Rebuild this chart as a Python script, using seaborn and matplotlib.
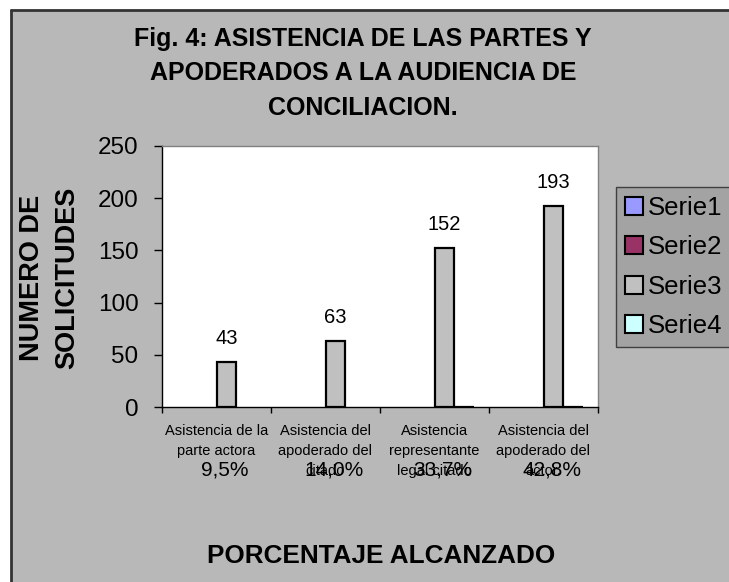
import numpy as np
import pandas as pd
import matplotlib
matplotlib.use("Agg")
import matplotlib.pyplot as plt
from matplotlib.patches import Rectangle, Patch
from matplotlib.lines import Line2D
import matplotlib.transforms as mtransforms
import seaborn as sns

# ---- data ----
categories = [
    "Asistencia de la\nparte actora",
    "Asistencia del\napoderado del\ncitado",
    "Asistencia\nrepresentante\nlegal citado",
    "Asistencia del\napoderado del\nactor.",
]
series_names = ["Serie1", "Serie2", "Serie3", "Serie4"]
serie1 = [np.nan, np.nan, np.nan, np.nan]
serie2 = [np.nan, np.nan, np.nan, np.nan]
serie3 = [43, 63, 152, 193]
serie4 = [np.nan, np.nan, 0.337, 0.428]
percent_labels = ["9,5%", "14,0%", "33,7%", "42,8%"]
y_ticks = [0, 50, 100, 150, 200, 250]
series_colors = ["#9999FF", "#993366", "#C0C0C0", "#CCFFFF"]

title = "Fig. 4: ASISTENCIA DE LAS PARTES Y\nAPODERADOS A LA AUDIENCIA DE\nCONCILIACION."
ylabel = "NUMERO DE\nSOLICITUDES"
xlabel = "PORCENTAJE ALCANZADO"

rows = []
for name, vals in zip(series_names, [serie1, serie2, serie3, serie4]):
    for c, v in zip(categories, vals):
        rows.append({"cat": c, "serie": name, "val": v})
df = pd.DataFrame(rows)

sns.set_theme(style="white")
plt.rcParams["font.family"] = ["Liberation Sans", "DejaVu Sans"]
for k in ["text.color", "axes.labelcolor", "xtick.color", "ytick.color"]:
    plt.rcParams[k] = "black"

W, H = 729, 582
fig = plt.figure(figsize=(W / 100, H / 100), dpi=100, facecolor="white")

# chart area background with border (left and top edges visible)
bg = Rectangle((11 / W, -0.2), 1.2, 1 - 10 / H + 0.2, transform=fig.transFigure,
               facecolor="#B8B8B8", edgecolor="none", zorder=-2)
fig.add_artist(bg)
fig.add_artist(Line2D([11 / W, 11 / W], [-0.1, 1 - 10 / H], transform=fig.transFigure,
                      color="#333333", lw=2, zorder=-1))
fig.add_artist(Line2D([11 / W, 1.1], [1 - 10 / H, 1 - 10 / H], transform=fig.transFigure,
                      color="#333333", lw=2, zorder=-1))

ax = fig.add_axes([162 / W, 1 - 407 / H, (598 - 162) / W, (407 - 146) / H])
ax.set_facecolor("white")

sns.barplot(data=df, x="cat", y="val", hue="serie", order=categories,
            hue_order=series_names, palette=dict(zip(series_names, series_colors)),
            width=0.73, errorbar=None, edgecolor="black", linewidth=1.6,
            legend=False, ax=ax)

ax.set_xlim(-0.5, 3.5)
ax.set_ylim(0, 250)
ax.set_yticks(y_ticks)
ax.set_yticklabels([str(t) for t in y_ticks], fontsize=17.5)
ax.tick_params(axis="y", direction="out", length=6, width=1, color="black", pad=11, left=True)
ax.set_xticks(range(len(categories)))
ax.set_xticklabels(categories, fontsize=10.5, linespacing=1.55)
ax.tick_params(axis="x", which="major", length=0, pad=12)
ax.set_xticks(np.arange(-0.5, 4.0, 1.0), minor=True)
ax.tick_params(axis="x", which="minor", direction="out", length=4, width=1, color="black", bottom=True)
ax.set_xlabel("")
ax.set_ylabel("")

for side in ["top", "right"]:
    ax.spines[side].set_color("#808080")
    ax.spines[side].set_linewidth(1)
for side in ["left", "bottom"]:
    ax.spines[side].set_color("black")
    ax.spines[side].set_linewidth(1)

# data labels on Serie3 bars
for cont in ax.containers:
    vals = [p.get_height() for p in cont.patches]
    if len(vals) == len(serie3) and np.allclose(np.nan_to_num(vals), serie3):
        ax.bar_label(cont, labels=[str(v) for v in serie3], padding=10, fontsize=14.5)

# percentage labels under the categories
ptrans = mtransforms.blended_transform_factory(ax.transData, fig.transFigure)
for i, p in enumerate(percent_labels):
    ax.text(i + 0.08, 1 - 476 / H, p, transform=ptrans, fontsize=15,
            ha="center", va="baseline")

# title
fig.text(363 / W, 1 - 27 / H, title, ha="center", va="top", fontsize=18,
         fontweight="bold", linespacing=1.55)
# y label
fig.text(50 / W, 1 - 278 / H, ylabel, ha="center", va="center", rotation=90,
         fontsize=19.5, fontweight="bold", linespacing=1.45, multialignment="center")
# x label
fig.text(381 / W, 1 - 563 / H, xlabel, ha="center", va="baseline", fontsize=18.8,
         fontweight="bold")

# legend
handles = [Patch(facecolor=c, edgecolor="black", lw=1.5, label=n)
           for n, c in zip(series_names, series_colors)]
leg = fig.legend(handles=handles, loc="upper left",
                 bbox_to_anchor=(616 / W, 1 - 347 / H, 140 / W, 160 / H), mode="expand",
                 bbox_transform=fig.transFigure, fontsize=18.5, frameon=True, fancybox=False,
                 borderaxespad=0, handlelength=0.7, handleheight=0.7, handletextpad=0.2,
                 labelspacing=0.6, borderpad=0.35)
leg.get_frame().set_facecolor("#A3A3A3")
leg.get_frame().set_edgecolor("#404040")
leg.get_frame().set_linewidth(1)
leg.get_frame().set_alpha(1)

fig.savefig("out.png", dpi=100, facecolor="white")
